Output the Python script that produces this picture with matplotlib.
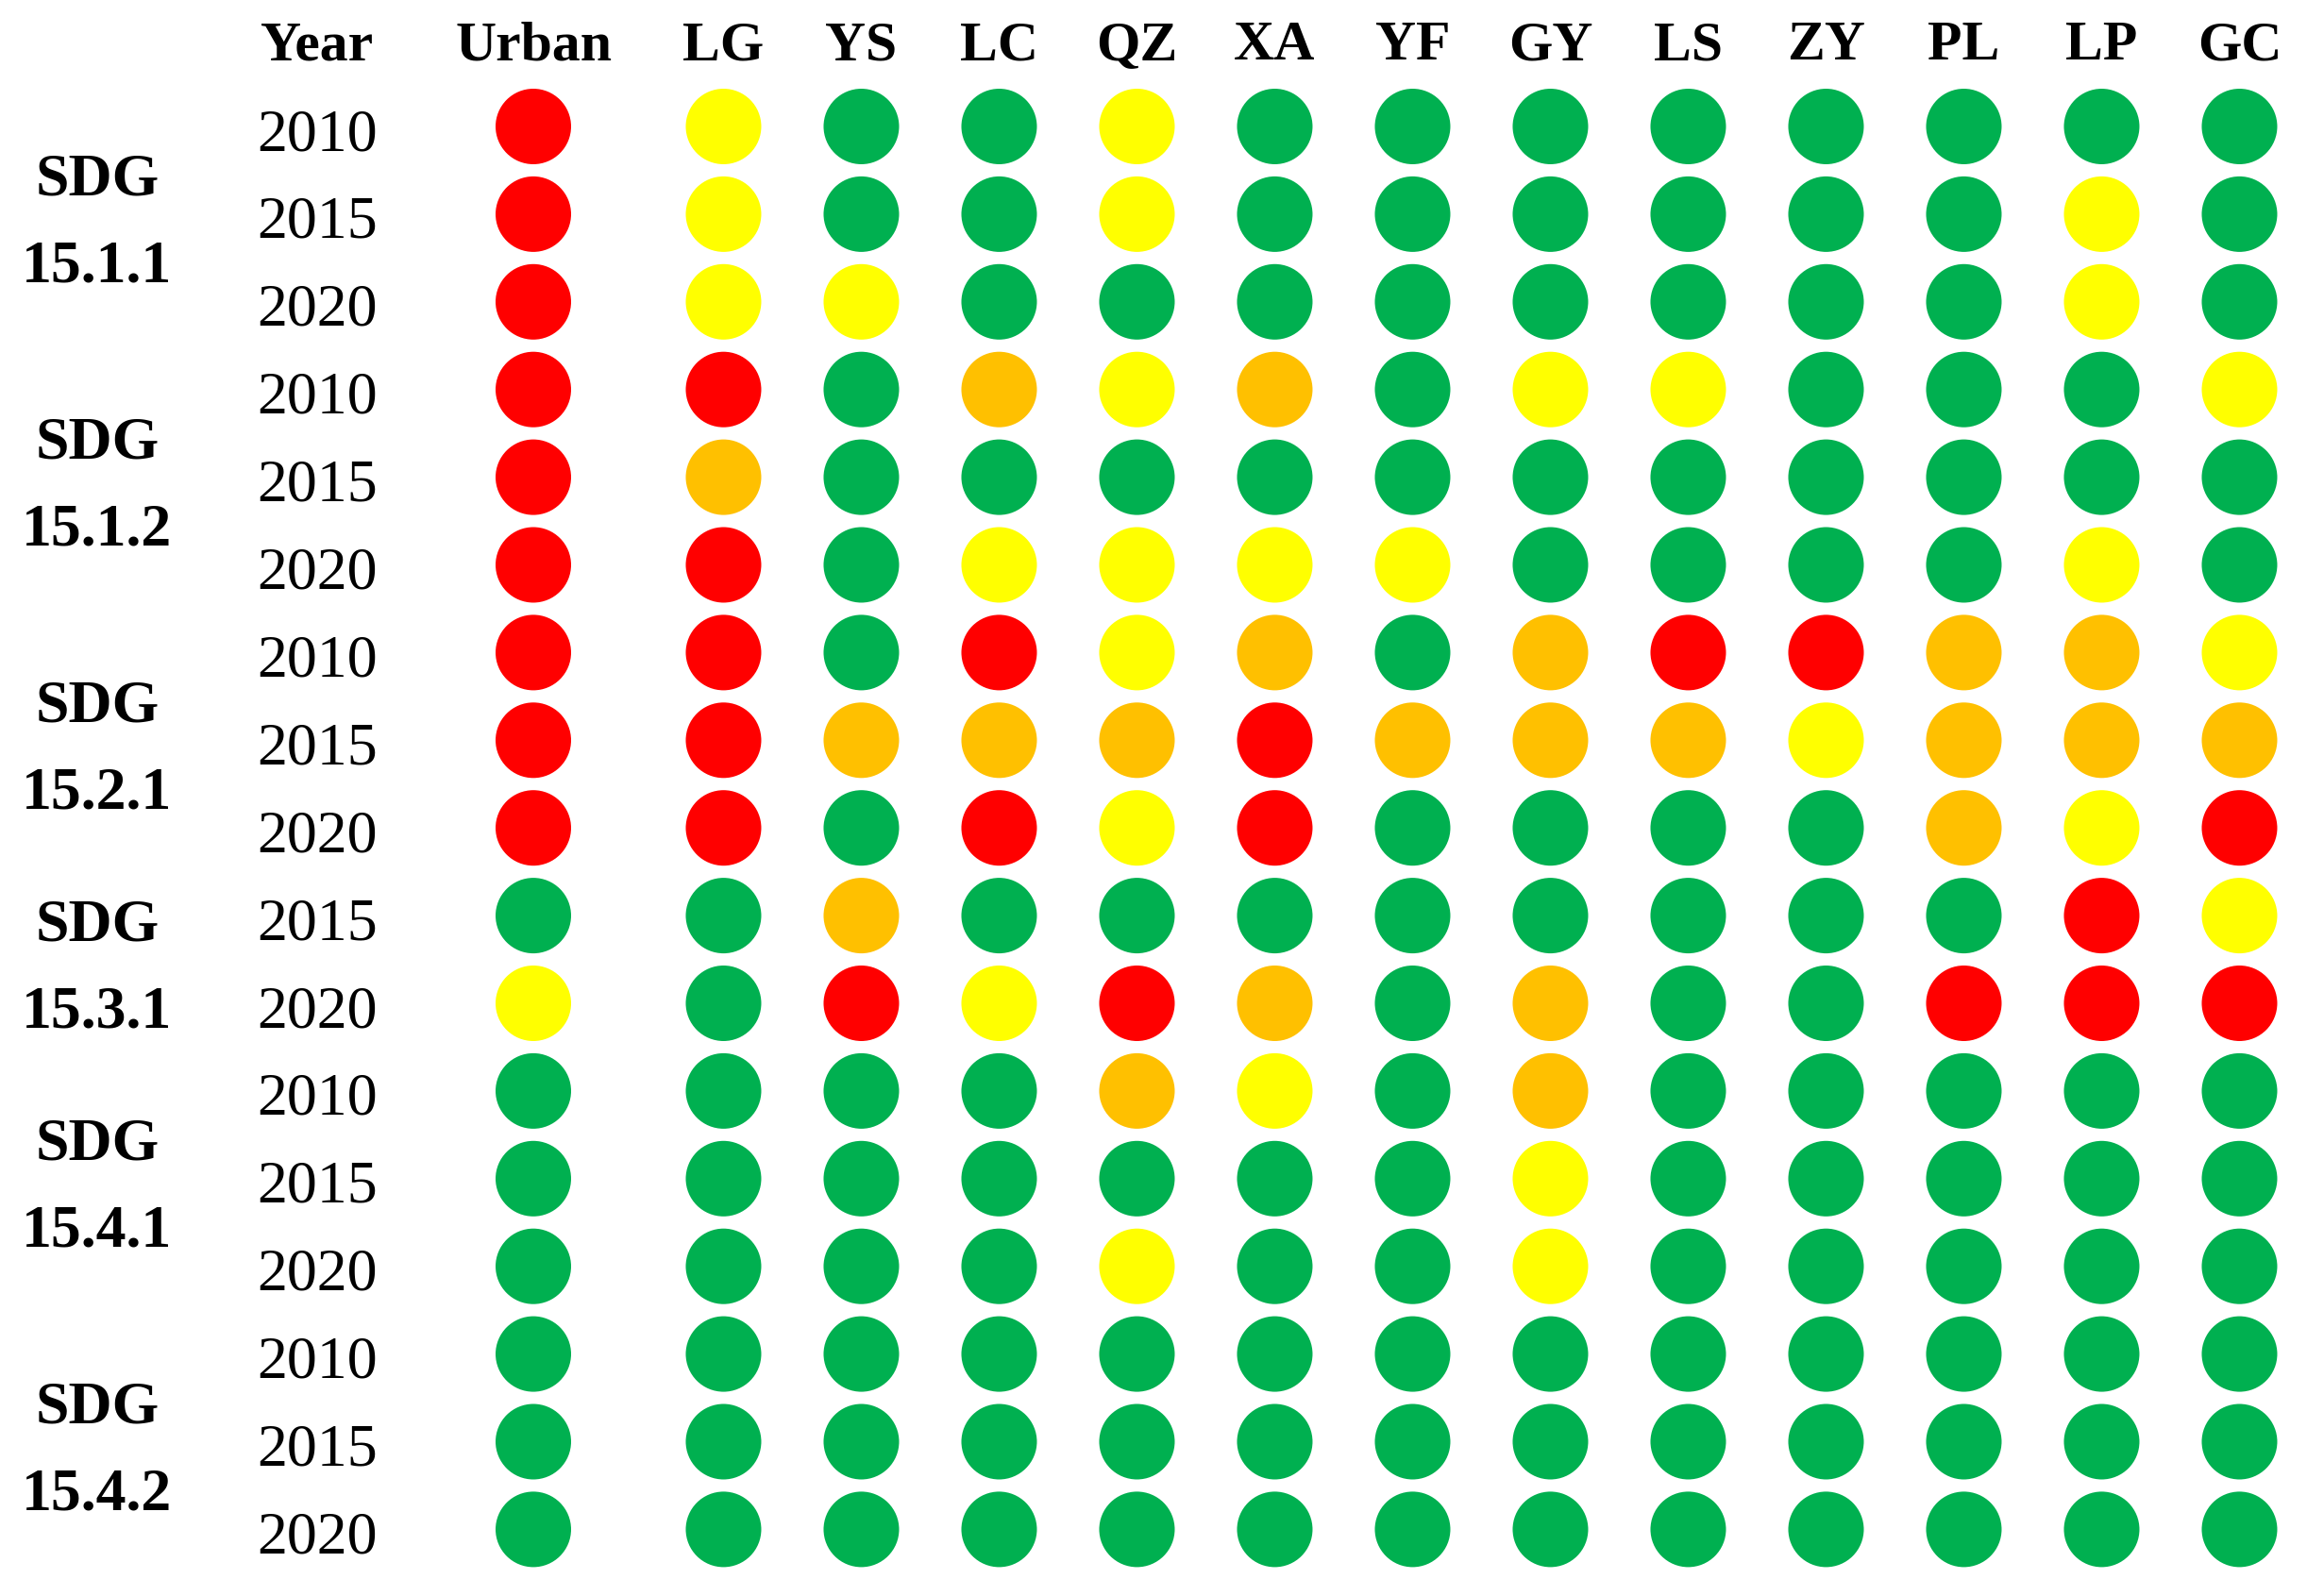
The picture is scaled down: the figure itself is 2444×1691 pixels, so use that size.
import numpy as np
import matplotlib
matplotlib.use("Agg")
import matplotlib.pyplot as plt

# column headers
districts = ["Urban", "LG", "YS", "LC", "QZ", "XA", "YF", "GY", "LS", "ZY", "PL", "LP", "GC"]

# indicator groups and their years
sdg_labels = ["SDG\n15.1.1", "SDG\n15.1.2", "SDG\n15.2.1", "SDG\n15.3.1", "SDG\n15.4.1", "SDG\n15.4.2"]
sdg_years = [[2010, 2015, 2020], [2010, 2015, 2020], [2010, 2015, 2020],
             [2015, 2020], [2010, 2015, 2020], [2010, 2015, 2020]]

# status per row (G green, Y yellow, O orange, R red), one letter per district
status = [
    "RYGGYGGGGGGGG",
    "RYGGYGGGGGGYG",
    "RYYGGGGGGGGYG",
    "RRGOYOGYYGGGY",
    "ROGGGGGGGGGGG",
    "RRGYYYYGGGGYG",
    "RRGRYOGORROOY",
    "RROOOROOOYOOO",
    "RRGRYRGGGGOYR",
    "GGOGGGGGGGGRY",
    "YGRYROGOGGRRR",
    "GGGGOYGOGGGGG",
    "GGGGGGGYGGGGG",
    "GGGGYGGYGGGGG",
    "GGGGGGGGGGGGG",
    "GGGGGGGGGGGGG",
    "GGGGGGGGGGGGG",
]

colors = {"G": "#00B050", "Y": "#FFFF00", "O": "#FFC000", "R": "#FF0000"}

plt.rcParams['font.family'] = ['Liberation Serif', 'DejaVu Serif']

fig = plt.figure(figsize=(24.44, 16.91), dpi=100)
ax = fig.add_axes([0, 0, 1, 1])

# pixel layout: column step 146 px, row step 92.9 px
col_step, row_step = 146.0, 92.9
x0_px, y0_px = 565, 134
ax.set_xlim(-x0_px / col_step, (2444 - x0_px) / col_step)
ax.set_ylim((1691 - y0_px) / row_step, -y0_px / row_step)
ax.axis("off")

ncol = len(districts)
xpos = np.arange(ncol) + np.where(np.arange(ncol) > 0, 0.38, 0.0)

xx, yy, cc = [], [], []
for r, row in enumerate(status):
    for c, code in enumerate(row):
        xx.append(xpos[c])
        yy.append(r)
        cc.append(colors[code])
ax.scatter(xx, yy, s=(80 * 0.72) ** 2, c=cc, marker="o", linewidths=0)

year_x = (336 - x0_px) / col_step
sdg_x = (103 - x0_px) / col_step
head_y = (63 - y0_px) / row_step

ax.text(year_x, head_y, "Year", ha="center", va="baseline", fontsize=43, fontweight="bold")
for c, name in enumerate(districts):
    ax.text(xpos[c], head_y, name, ha="center", va="baseline", fontsize=43, fontweight="bold")

r = 0
for label, yrs in zip(sdg_labels, sdg_years):
    for k, yr in enumerate(yrs):
        ax.text(year_x, r + k + 0.27, str(yr), ha="center", va="baseline", fontsize=46)
    mid = r + (len(yrs) - 1) / 2
    top, bottom = label.split("\n")
    ax.text(sdg_x, mid - 0.215, top, ha="center", va="baseline", fontsize=46, fontweight="bold")
    ax.text(sdg_x, mid + 0.775, bottom, ha="center", va="baseline", fontsize=46, fontweight="bold")
    r += len(yrs)

fig.savefig("out.png", dpi=100, facecolor="white")
